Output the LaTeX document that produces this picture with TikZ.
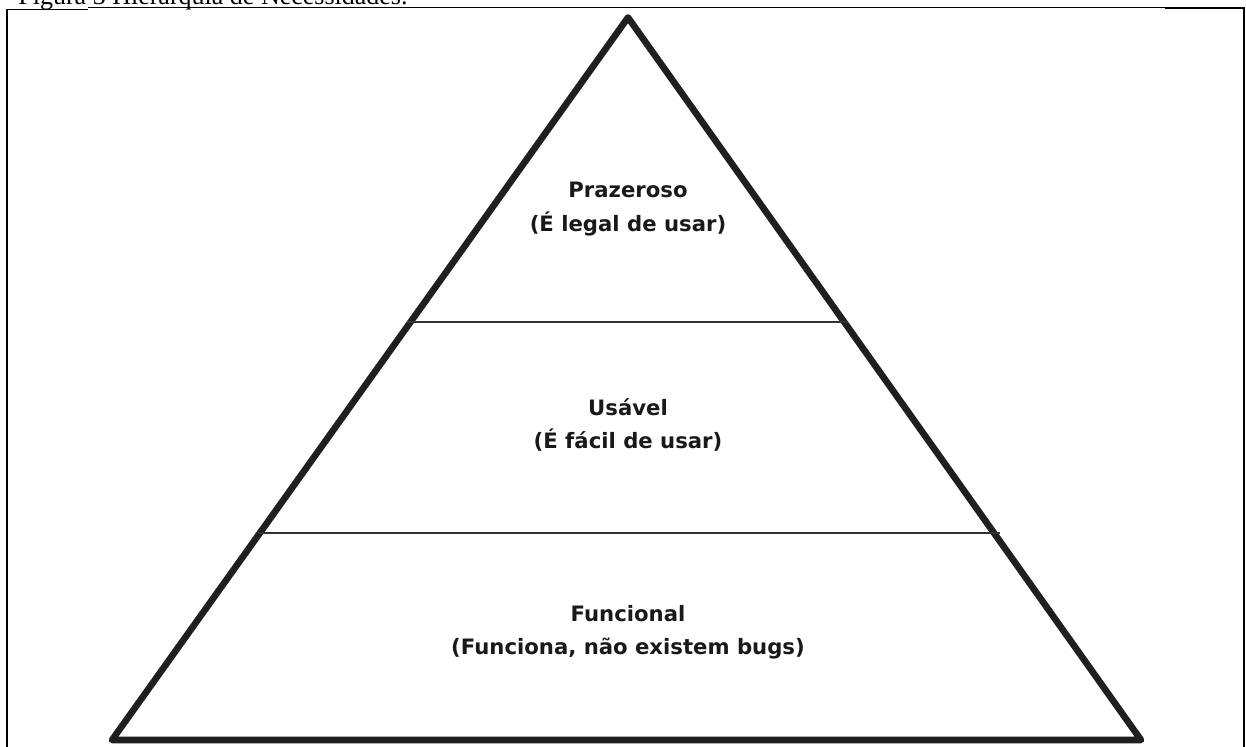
\documentclass[tikz,border=0pt]{standalone}
\usepackage{fontspec}
\setmainfont{Liberation Serif}
\newfontfamily\labelfont{DejaVu Sans}
\begin{document}
\begin{tikzpicture}[x=0.5pt,y=-0.5pt,
  frame/.style={line width=0.55pt,black},
  frameB/.style={line width=1.1pt,black},
  pyr/.style={line width=3.3pt,draw=black!88,line join=round,line cap=round},
  divider/.style={line width=1.1pt,draw=black!80},
  lbl/.style={font=\labelfont\bfseries\fontsize{10.6}{16.6}\selectfont,align=center,text=black!90}]
\useasboundingbox (0,0) rectangle (1246,747);
% caption (cropped at top, as in the reference)
\node[anchor=base west,inner sep=0pt,font=\fontsize{13}{15}\selectfont] (cap) at (18,4.5) {Figura 3 Hierarquia de Necessidades.};
% frame
\draw[frame] (6,9.5) -- (88,9.5);
\draw[frame] (88,7.5) -- (1165,7.5);
\draw[frameB] (1165,8) -- (1244,8) -- (1244,747);
\draw[frameB] (7,9) -- (7,747);
% pyramid
\coordinate (apex) at (628,17.5);
\coordinate (bl) at (112,740);
\coordinate (br) at (1141,740);
\draw[pyr] (bl) -- (apex) -- (br) -- cycle;
\draw[divider] (407,322) -- (847,322);
\draw[divider] (258,533) -- (1000,533);
% labels
\node[lbl] (top) at (628,209) {Prazeroso\\(É legal de usar)};
\node[lbl] (mid) at (628,425) {Usável\\(É fácil de usar)};
\node[lbl] (bot) at (628,632) {Funcional\\(Funciona, não existem bugs)};
\end{tikzpicture}
\end{document}
